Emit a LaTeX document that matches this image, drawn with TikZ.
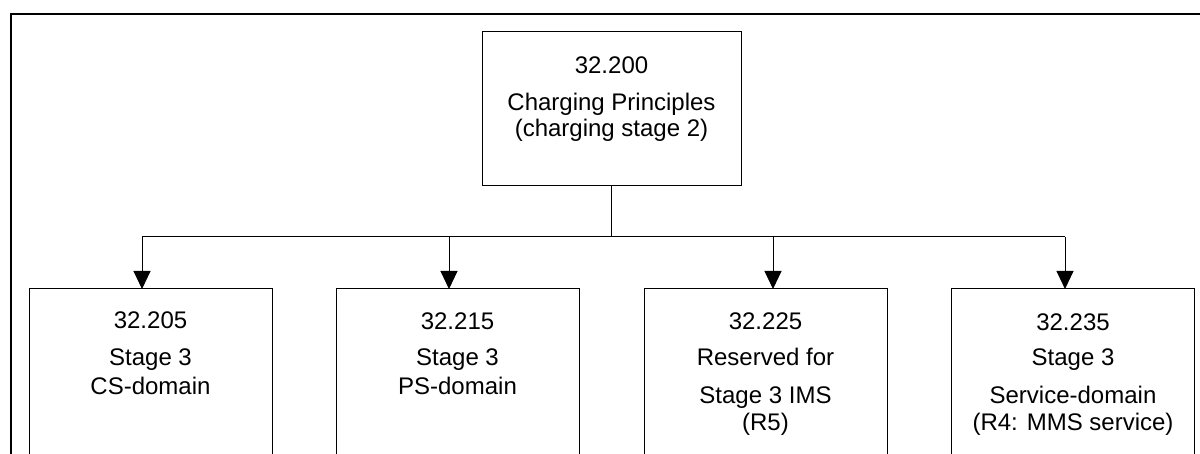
\documentclass[tikz,border=0pt]{standalone}
\usepackage{fontspec}
\setmainfont{Liberation Sans}
\usetikzlibrary{arrows.meta}
\begin{document}
\begin{tikzpicture}[x=1pt,y=-1pt,
  box/.style={draw, line width=1pt, anchor=north west, inner sep=0pt, outer sep=0pt},
  txt/.style={anchor=base, font=\fontsize{24}{28}\selectfont, inner sep=0pt},
  conn/.style={line width=1pt},
  arr/.style={conn, -{Triangle[width=17pt,length=18pt]}}]
\useasboundingbox (0,0) rectangle (1200,454);
\clip (0,0) rectangle (1200,454);
% outer frame (continues beyond the visible area)
\draw[line width=2.3pt] (11,600) -- (11,14) -- (1400,14);
% boxes
\node[box, minimum width=259pt, minimum height=154pt] (top) at (482,32) {};
\node[box, minimum width=243pt, minimum height=260pt] (b1) at (29,289) {};
\node[box, minimum width=243pt, minimum height=260pt] (b2) at (336,289) {};
\node[box, minimum width=243pt, minimum height=260pt] (b3) at (644,289) {};
\node[box, minimum width=243pt, minimum height=260pt] (b4) at (951.5,289) {};
% texts
\node[txt] (t0a) at (611.5,74) {32.200};
\node[txt] (t0b) at (611.5,110.7) {Charging Principles};
\node[txt] (t0c) at (611.5,137) {(charging stage 2)};
\node[txt] (t1a) at (150.5,329) {32.205};
\node[txt] (t1b) at (150.5,366) {Stage 3};
\node[txt] (t1c) at (150.5,395) {CS-domain};
\node[txt] (t2a) at (457.5,330) {32.215};
\node[txt] (t2b) at (457.5,366) {Stage 3};
\node[txt] (t2c) at (457.5,395) {PS-domain};
\node[txt] (t3a) at (765.5,330) {32.225};
\node[txt] (t3b) at (765.5,366) {Reserved for};
\node[txt] (t3c) at (765.5,403) {Stage 3 IMS};
\node[txt] (t3d) at (765.5,430) {(R5)};
\node[txt] (t4a) at (1073,331) {32.235};
\node[txt] (t4b) at (1073,366) {Stage 3};
\node[txt] (t4c) at (1073,403) {Service-domain};
\node[txt] (t4d) at (1073,430) {(R4: MMS service)};
% connectors
\coordinate (a1) at (142,237);
\coordinate (a2) at (449,237);
\coordinate (a3) at (773,237);
\coordinate (a4) at (1065,237);
\coordinate (j) at (top.south |- a1);
\draw[conn] (top.south) -- (j);
\draw[conn] (a1) -- (a4);
\draw[arr] (a1) -- (b1.north -| a1);
\draw[arr] (a2) -- (b2.north -| a2);
\draw[arr] (a3) -- (b3.north -| a3);
\draw[arr] (a4) -- (b4.north -| a4);
\end{tikzpicture}
\end{document}
